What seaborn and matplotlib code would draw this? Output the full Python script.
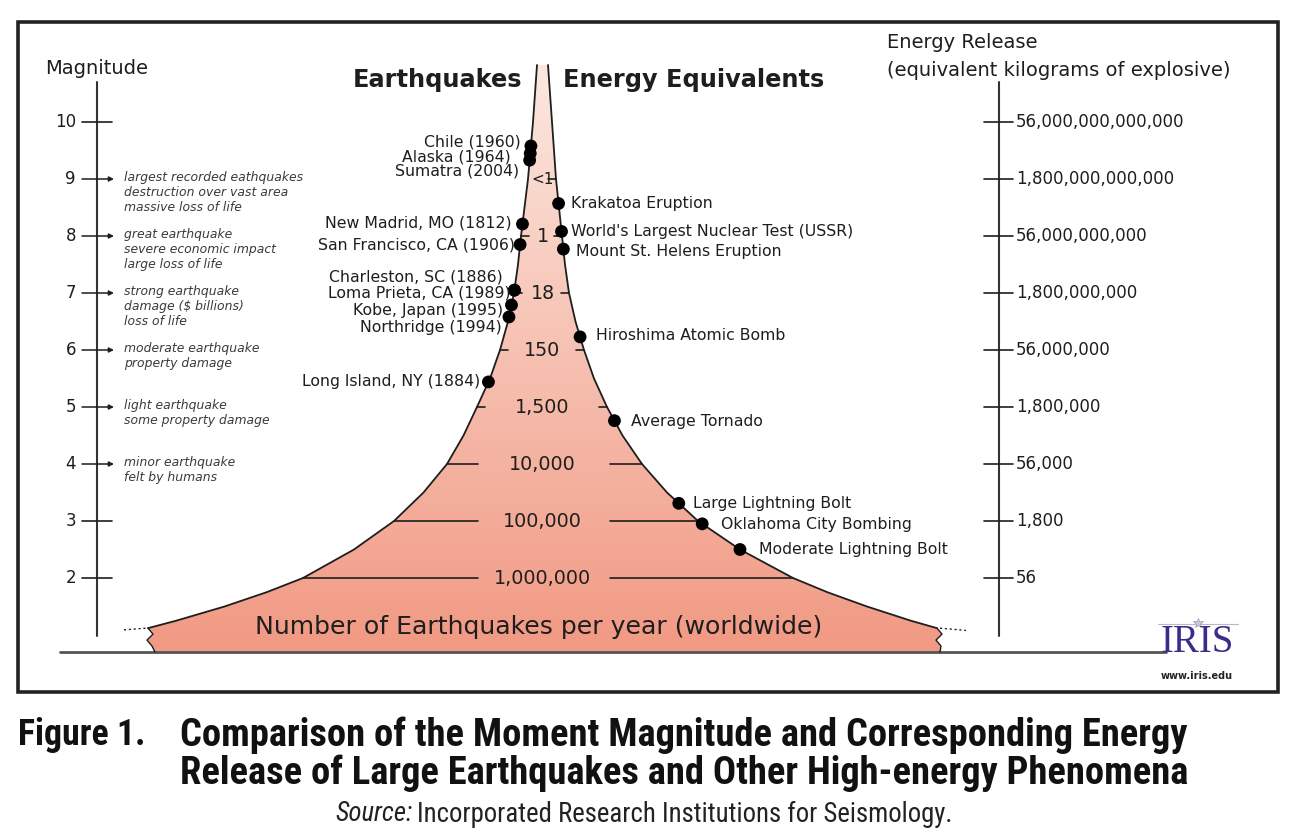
import numpy as np
import matplotlib
matplotlib.use("Agg")
import matplotlib.pyplot as plt
import seaborn as sns
from matplotlib.patches import Polygon, Rectangle

# ---- values ----
MAGNITUDE_TICKS = [10, 9, 8, 7, 6, 5, 4, 3, 2]
ENERGY_KG = ["56,000,000,000,000", "1,800,000,000,000", "56,000,000,000",
             "1,800,000,000", "56,000,000", "1,800,000", "56,000", "1,800", "56"]

ARROW_MAGS = [9, 8, 7, 6, 5, 4]
DESCRIPTIONS = [
    ["largest recorded eathquakes", "destruction over vast area", "massive loss of life"],
    ["great earthquake", "severe economic impact", "large loss of life"],
    ["strong earthquake", "damage (\\$ billions)", "loss of life"],
    ["moderate earthquake", "property damage"],
    ["light earthquake", "some property damage"],
    ["minor earthquake", "felt by humans"],
]

RATE_MAGS = [9, 8, 7, 6, 5, 4, 3, 2]
QUAKES_PER_YEAR = ["<1", "1", "18", "150", "1,500", "10,000", "100,000", "1,000,000"]

# outline of the funnel (x in pixels) at a set of magnitudes
EDGE_MAG = [1.12, 1.25, 1.5, 1.75, 2, 2.5, 3, 3.5, 4, 4.5, 5, 5.5, 6, 6.5, 7, 7.5, 8, 9, 10, 11]
EDGE_LEFT = [148, 176, 224.5, 266.5, 303, 354, 394, 423.5, 447, 463.5, 477, 490, 500, 508,
             514, 518, 521, 528, 533, 537]
EDGE_RIGHT = [937, 911, 867, 827.5, 793, 740, 698, 667, 642, 622.5, 607, 594, 584, 575.5,
              569, 565, 562, 556, 552, 548]

QUAKES = ["Chile (1960)", "Alaska (1964)", "Sumatra (2004)", "New Madrid, MO (1812)",
          "San Francisco, CA (1906)", "Charleston, SC (1886)", "Loma Prieta, CA (1989)",
          "Kobe, Japan (1995)", "Northridge (1994)", "Long Island, NY (1884)"]
QUAKE_MAG = [9.58, 9.45, 9.33, 8.21, 7.85, 7.05, 7.05, 6.79, 6.58, 5.44]

EVENTS = ["Krakatoa Eruption", "World's Largest Nuclear Test (USSR)", "Mount St. Helens Eruption",
          "Hiroshima Atomic Bomb", "Average Tornado", "Large Lightning Bolt",
          "Oklahoma City Bombing", "Moderate Lightning Bolt"]
EVENT_MAG = [8.57, 8.08, 7.77, 6.23, 4.76, 3.31, 2.95, 2.50]

# label placement (pixels), kept apart from the data
QUAKE_LABEL_Y = [142, 157, 171, 223, 245, 277, 293, 310, 327, 381]
QUAKE_LABEL_DX = [-10, -20, -11, -11, -5, -12, -4, -8, -7, -8]
EVENT_LABEL_Y = [203, 231, 251, 335, 421, 503, 524, 549]
EVENT_LABEL_DX = [12, 9, 13, 16, 17, 14, 19, 19]

W, H = 1296, 838
MAG2_PX, PX_PER_MAG = 578, 57
INK = "#1e1e1e"


def ym(py):
    """pixel row -> magnitude (the vertical data unit)"""
    return 2 + (MAG2_PX - py) / PX_PER_MAG


sns.set_theme(style="white")
plt.rcParams["font.family"] = ["DejaVu Sans"]

fig = plt.figure(figsize=(W / 100, H / 100), dpi=100)
ax = fig.add_axes([0, 0, 1, 1])
ax.set_xlim(0, W)
ax.set_ylim(ym(H), ym(0))
ax.axis("off")

# frame and ground line
ax.add_patch(Rectangle((18, ym(692)), 1260, ym(22) - ym(692), fill=False, lw=2.6, ec="#222222"))
base = ym(652)
ax.plot([60, 1166], [base, base], color="#555555", lw=2)

# ---- funnel ----
bottom = EDGE_MAG[0]
jag_f = np.array([0, .25, .5, .75, 1.0])
jag_y = bottom - jag_f * (bottom - base)
jag_left = EDGE_LEFT[0] + np.array([0, 5, -1, 4, 7])
jag_right = EDGE_RIGHT[0] + np.array([0, 5, -1, 4, 3])

poly = (list(zip(EDGE_LEFT, EDGE_MAG)) + list(zip(EDGE_RIGHT, EDGE_MAG))[::-1]
        + list(zip(jag_right, jag_y)) + list(zip(jag_left, jag_y))[::-1])
clip = Polygon(poly, closed=True, fc="none", ec="none")
ax.add_patch(clip)

top_c = np.array([252, 232, 224]) / 255
bot_c = np.array([241, 153, 131]) / 255
t = np.linspace(0, 1, 256)[:, None]
grad = (bot_c * (1 - t) + top_c * t)[:, None, :]
im = ax.imshow(grad, extent=(100, 980, base, EDGE_MAG[-1]), origin="lower",
               aspect="auto", zorder=1)
im.set_clip_path(clip)

ax.plot(EDGE_LEFT, EDGE_MAG, color=INK, lw=1.3, zorder=3)
ax.plot(EDGE_RIGHT, EDGE_MAG, color=INK, lw=1.3, zorder=3)
ax.plot(jag_left, jag_y, color=INK, lw=1, zorder=3)
ax.plot(jag_right, jag_y, color=INK, lw=1, zorder=3)
ax.plot([124, EDGE_LEFT[0] - 2], [bottom - 0.03, bottom], color=INK, lw=1, ls=(0, (1.5, 2)))
ax.plot([EDGE_RIGHT[0] + 3, 966], [bottom, bottom - 0.04], color=INK, lw=1, ls=(0, (1.5, 2)))

# earthquakes-per-year rungs
for m, lab in zip(RATE_MAGS, QUAKES_PER_YEAR):
    xl = np.interp(m, EDGE_MAG, EDGE_LEFT)
    xr = np.interp(m, EDGE_MAG, EDGE_RIGHT)
    if m <= 4:
        ax.plot([xl, 478], [m, m], color=INK, lw=1.2, zorder=3)
        ax.plot([610, xr], [m, m], color=INK, lw=1.2, zorder=3)
    else:
        if m < 9:
            ax.plot([xl, xl + 8], [m, m], color=INK, lw=1.2, zorder=3)
        ax.plot([xr - 8, xr], [m, m], color=INK, lw=1.2, zorder=3)
    size = 11 if lab == "<1" else 13.8
    ax.text(542.5, m, lab, ha="center", va="center", fontsize=size, color=INK, zorder=4)

ax.text(539, ym(627), "Number of Earthquakes per year (worldwide)", ha="center", va="center",
        fontsize=18.1, color=INK, zorder=4)

# ---- events on the edges ----
qx = np.interp(QUAKE_MAG, EDGE_MAG, EDGE_LEFT)
ex = np.interp(EVENT_MAG, EDGE_MAG, EDGE_RIGHT)
sns.scatterplot(x=np.r_[qx, ex], y=np.r_[QUAKE_MAG, EVENT_MAG], ax=ax, s=85,
                color="black", edgecolor="none", legend=False, zorder=5)

for name, x0, ly, dx in zip(QUAKES, qx, QUAKE_LABEL_Y, QUAKE_LABEL_DX):
    ax.text(x0 + dx, ym(ly), name, ha="right", va="center", fontsize=11.3, color=INK, zorder=6)
for name, x0, ly, dx in zip(EVENTS, ex, EVENT_LABEL_Y, EVENT_LABEL_DX):
    ax.text(x0 + dx, ym(ly), name, ha="left", va="center", fontsize=11.3, color=INK, zorder=6)

# ---- titles ----
ax.text(522, ym(80), "Earthquakes", ha="right", va="center", fontsize=17.3,
        fontweight="bold", color=INK)
ax.text(563, ym(80), "Energy Equivalents", ha="left", va="center", fontsize=17.3,
        fontweight="bold", color=INK)

# ---- magnitude scale (left) ----
ax.text(45, ym(68), "Magnitude", ha="left", va="center", fontsize=14, color=INK)
ax.plot([97, 97], [ym(82), ym(636)], color="#333333", lw=1.5)
for m in MAGNITUDE_TICKS:
    ax.text(76, m, str(m), ha="right", va="center", fontsize=12, color=INK)
    if m in ARROW_MAGS:
        ax.annotate("", xy=(114, m), xytext=(82, m),
                    arrowprops=dict(arrowstyle="-|>", lw=1.1, color=INK,
                                    mutation_scale=7, shrinkA=0, shrinkB=0))
    else:
        ax.plot([82, 112], [m, m], color=INK, lw=1.2)

for m, lines in zip(ARROW_MAGS, DESCRIPTIONS):
    for i, line in enumerate(lines):
        ax.text(124, m - (i * 15 - 2) / PX_PER_MAG, line, ha="left", va="center",
                fontsize=8.9, style="italic", color="#3a3a3a")

# ---- energy scale (right) ----
ax.text(887, ym(43), "Energy Release", ha="left", va="center", fontsize=14, color=INK)
ax.text(887, ym(70), "(equivalent kilograms of explosive)", ha="left", va="center",
        fontsize=14, color=INK)
ax.plot([999, 999], [ym(82), ym(636)], color="#333333", lw=1.5)
for m, lab in zip(MAGNITUDE_TICKS, ENERGY_KG):
    ax.plot([984, 1013], [m, m], color=INK, lw=1.2)
    ax.text(1016, m, lab, ha="left", va="center", fontsize=12, color=INK)

# ---- IRIS mark ----
ax.plot([1158, 1238], [ym(624), ym(624)], color="#b8b8c8", lw=0.8)
ax.plot([1198], [ym(623)], marker="*", ms=7, color="#c8c8d8", mec="#9a9ab0", mew=0.5)
ax.text(1197, ym(642), "IRIS", ha="center", va="center", fontsize=28,
        family=["Liberation Serif", "DejaVu Serif"], color="#3d2b8c")
ax.text(1197, ym(676), "www.iris.edu", ha="center", va="center", fontsize=7,
        fontweight="bold", color="#222222")

# ---- caption ----
renderer = fig.canvas.get_renderer()
cap_font = ["Liberation Sans Narrow", "Roboto Condensed", "Open Sans Condensed",
            "DejaVu Sans Condensed", "Liberation Sans"]


def width_of(txt):
    return txt.get_window_extent(renderer=renderer).width


def fit_width(txt, width_px):
    txt.set_fontsize(txt.get_fontsize() * width_px / width_of(txt))


cap = dict(ha="left", va="center", fontweight="bold", family=cap_font,
           fontstretch="condensed", color="#111111")
t1 = ax.text(18, ym(735), "Figure 1.", fontsize=20, **cap)
fit_width(t1, 127)
t2 = ax.text(180, ym(735), "Comparison of the Moment Magnitude and Corresponding Energy",
             fontsize=20, **cap)
fit_width(t2, 1005)
t3 = ax.text(180, ym(773), "Release of Large Earthquakes and Other High-energy Phenomena",
             fontsize=t2.get_fontsize(), **cap)

src = dict(ha="left", va="center", family=cap_font, fontstretch="condensed", color="#222222")
s1 = ax.text(335, ym(814), "Source:", fontsize=14, style="italic", **src)
s2 = ax.text(335, ym(814), "Incorporated Research Institutions for Seismology.", fontsize=14, **src)
k = 622 / (width_of(s1) + width_of(s2) + 5)
s1.set_fontsize(14 * k)
s2.set_fontsize(14 * k)
s2.set_x(335 + width_of(s1) + 5)

fig.savefig("out.png", dpi=100)
